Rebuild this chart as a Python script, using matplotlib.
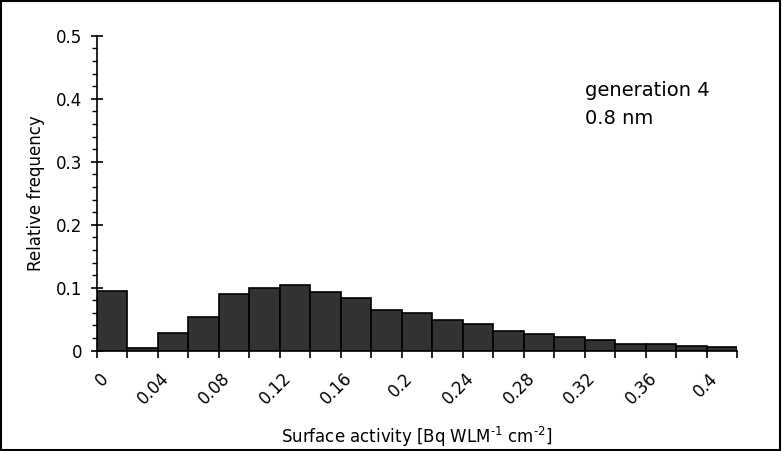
import numpy as np
import matplotlib.pyplot as plt
from matplotlib.patches import Rectangle
import matplotlib.transforms as mtransforms

plt.rcParams['font.family'] = ['DejaVu Sans']
plt.rcParams['mathtext.default'] = 'regular'

# bin left edges (width 0.02) and relative frequencies
bin_left = [0.00, 0.02, 0.04, 0.06, 0.08, 0.10, 0.12, 0.14, 0.16, 0.18, 0.20,
            0.22, 0.24, 0.26, 0.28, 0.30, 0.32, 0.34, 0.36, 0.38, 0.40]
freq = [0.095, 0.005, 0.028, 0.054, 0.090, 0.099, 0.104, 0.093, 0.083, 0.065, 0.060,
        0.049, 0.042, 0.031, 0.027, 0.022, 0.017, 0.011, 0.011, 0.0075, 0.0055]
xtick_pos = [0.00, 0.02, 0.04, 0.06, 0.08, 0.10, 0.12, 0.14, 0.16, 0.18, 0.20,
             0.22, 0.24, 0.26, 0.28, 0.30, 0.32, 0.34, 0.36, 0.38, 0.40, 0.42]
xtick_lab = ['0', '', '0.04', '', '0.08', '', '0.12', '', '0.16', '', '0.2',
             '', '0.24', '', '0.28', '', '0.32', '', '0.36', '', '0.4', '']
ytick_pos = [0, 0.1, 0.2, 0.3, 0.4, 0.5]
ytick_lab = ['0', '0.1', '0.2', '0.3', '0.4', '0.5']

fig = plt.figure(figsize=(7.82, 4.51), dpi=100)
ax = fig.add_axes([0.124, 0.2224, 0.8185, 0.6984])

ax.bar(bin_left, freq, width=0.02, align='edge', color='#333333',
       edgecolor='black', linewidth=1.2)

ax.set_xlim(0, 0.42)
ax.set_ylim(0, 0.5)
ax.spines['top'].set_visible(False)
ax.spines['right'].set_visible(False)
ax.spines['left'].set_linewidth(1.2)
ax.spines['bottom'].set_linewidth(1.2)

ax.set_yticks(ytick_pos)
ax.set_yticklabels(ytick_lab, fontsize=12)
ax.set_yticks(np.arange(0, 0.5, 0.02), minor=True)
ax.tick_params(axis='y', which='major', direction='inout', length=9, width=1.2, pad=6)
ax.tick_params(axis='y', which='minor', direction='out', length=3.5, width=1.0)

ax.set_xticks(xtick_pos)
ax.set_xticklabels(xtick_lab, fontsize=12, rotation=45, ha='right', va='center',
                   rotation_mode='anchor')
ax.tick_params(axis='x', which='major', direction='out', length=5, width=1.2, pad=13)
offset = mtransforms.ScaledTranslation(6 / 72, 0, fig.dpi_scale_trans)
for lab in ax.get_xticklabels():
    lab.set_transform(lab.get_transform() + offset)

ax.set_ylabel('Relative frequency', fontsize=12, labelpad=8)
ax.set_xlabel(r'Surface activity [Bq WLM$^{\text{-}1}$ cm$^{\text{-}2}$]', fontsize=12, labelpad=12)

ax.text(0.3203, 0.4043, 'generation 4', fontsize=14, va='baseline')
ax.text(0.3203, 0.360, '0.8 nm', fontsize=14, va='baseline')

fig.patches.append(Rectangle((0.001, 0.002), 0.997, 0.996, transform=fig.transFigure,
                             fill=False, edgecolor='black', linewidth=1.5))

fig.savefig('out.png', dpi=100)
